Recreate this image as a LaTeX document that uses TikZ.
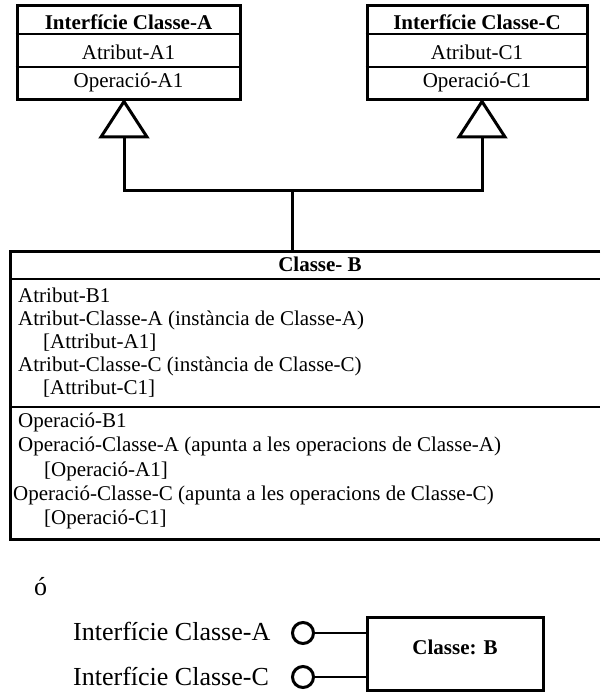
\documentclass[tikz,border=0pt]{standalone}
\usepackage{fontspec}
\setmainfont{Liberation Serif}
\begin{document}
\begin{tikzpicture}[x=1pt,y=-1pt,
  frame/.style={line width=3pt},
  rule/.style={line width=1.7pt},
  boxnode/.style={draw,frame,rectangle,inner sep=0pt},
  body/.style={inner sep=0pt,anchor=base west,font=\fontsize{21}{24}\selectfont},
  cell/.style={inner sep=0pt,anchor=base,font=\fontsize{21}{24}\selectfont},
  head/.style={inner sep=0pt,anchor=base,font=\fontsize{21}{24}\selectfont\bfseries},
  big/.style={inner sep=0pt,anchor=base west,font=\fontsize{26}{28}\selectfont},
  lollipop/.style={draw,circle,line width=3pt,minimum size=21pt,inner sep=0pt},
  link/.style={line width=2.7pt},
  gen/.style={frame,fill=white,line join=miter}]
\useasboundingbox (0,0) rectangle (600,692);

% interface class A
\node[boxnode,minimum width=223pt,minimum height=94pt] (A) at (128.5,53) {};
\draw[rule] (A.west |- 0,34) -- (A.east |- 0,34);
\draw[rule] (A.west |- 0,67) -- (A.east |- 0,67);
\node[head] (Ah) at (128.5,30) {Interfície Classe-A};
\node[cell] (Aa) at (128.5,60) {Atribut-A1};
\node[cell] (Ao) at (128.5,88) {Operació-A1};

% interface class C
\node[boxnode,minimum width=220pt,minimum height=94pt] (C) at (477,53) {};
\draw[rule] (C.west |- 0,34) -- (C.east |- 0,34);
\draw[rule] (C.west |- 0,67) -- (C.east |- 0,67);
\node[head] (Ch) at (477,30) {Interfície Classe-C};
\node[cell] (Ca) at (477,60) {Atribut-C1};
\node[cell] (Co) at (477,88) {Operació-C1};

% class B: the box runs on past the right edge, so only three sides show
\node[inner sep=0pt,minimum width=589pt,minimum height=287pt] (B) at (305.5,395.5) {};
\draw[frame,line join=miter] (B.north east) -- (B.north west) -- (B.south west) -- (B.south east);
\draw[rule] (B.west |- 0,279) -- (B.east |- 0,279);
\draw[rule] (B.west |- 0,407) -- (B.east |- 0,407);
\node[head] (Bh) at (320,271) {Classe- B};
\node[body] (b1) at (18,302.5) {Atribut-B1};
\node[body] (b2) at (18,325.5) {Atribut-Classe-A (instància de Classe-A)};
\node[body] (b3) at (43,348.5) {[Attribut-A1]};
\node[body] (b4) at (18,371.5) {Atribut-Classe-C (instància de Classe-C)};
\node[body] (b5) at (43,394.5) {[Attribut-C1]};
\node[body] (b6) at (18,427) {Operació-B1};
\node[body] (b7) at (18,451) {Operació-Classe-A (apunta a les operacions de Classe-A)};
\node[body] (b8) at (44,476) {[Operació-A1]};
\node[body] (b9) at (13,500) {Operació-Classe-C (apunta a les operacions de Classe-C)};
\node[body] (b10) at (44,524) {[Operació-C1]};

% generalization arrows
\coordinate (tA) at (124,137);
\coordinate (tC) at (482,137);
\coordinate (j) at (292,191);
\draw[gen] (A.south -| tA) -- (101,137) -- (147,137) -- cycle;
\draw[gen] (C.south -| tC) -- (459,137) -- (505,137) -- cycle;
\draw[frame,line join=miter] (B.north -| j) -- (j);
\draw[frame,line join=miter] (tA) |- (j) -| (tC);

% compact notation
\node[big] (or) at (34,595) {ó};
\node[big] (lA) at (73,640) {Interfície Classe-A};
\node[big] (lC) at (73,685) {Interfície Classe-C};
\node[lollipop] (iA) at (303,633) {};
\node[lollipop] (iC) at (303,677) {};
\node[boxnode,minimum width=176pt,minimum height=73pt] (K) at (455,653.5) {};
\node[head] (Kt) at (455,654) {Classe: B};
\draw[link] (iA.east) -- (iA.east -| K.west);
\draw[link] (iC.east) -- (iC.east -| K.west);
\end{tikzpicture}
\end{document}
